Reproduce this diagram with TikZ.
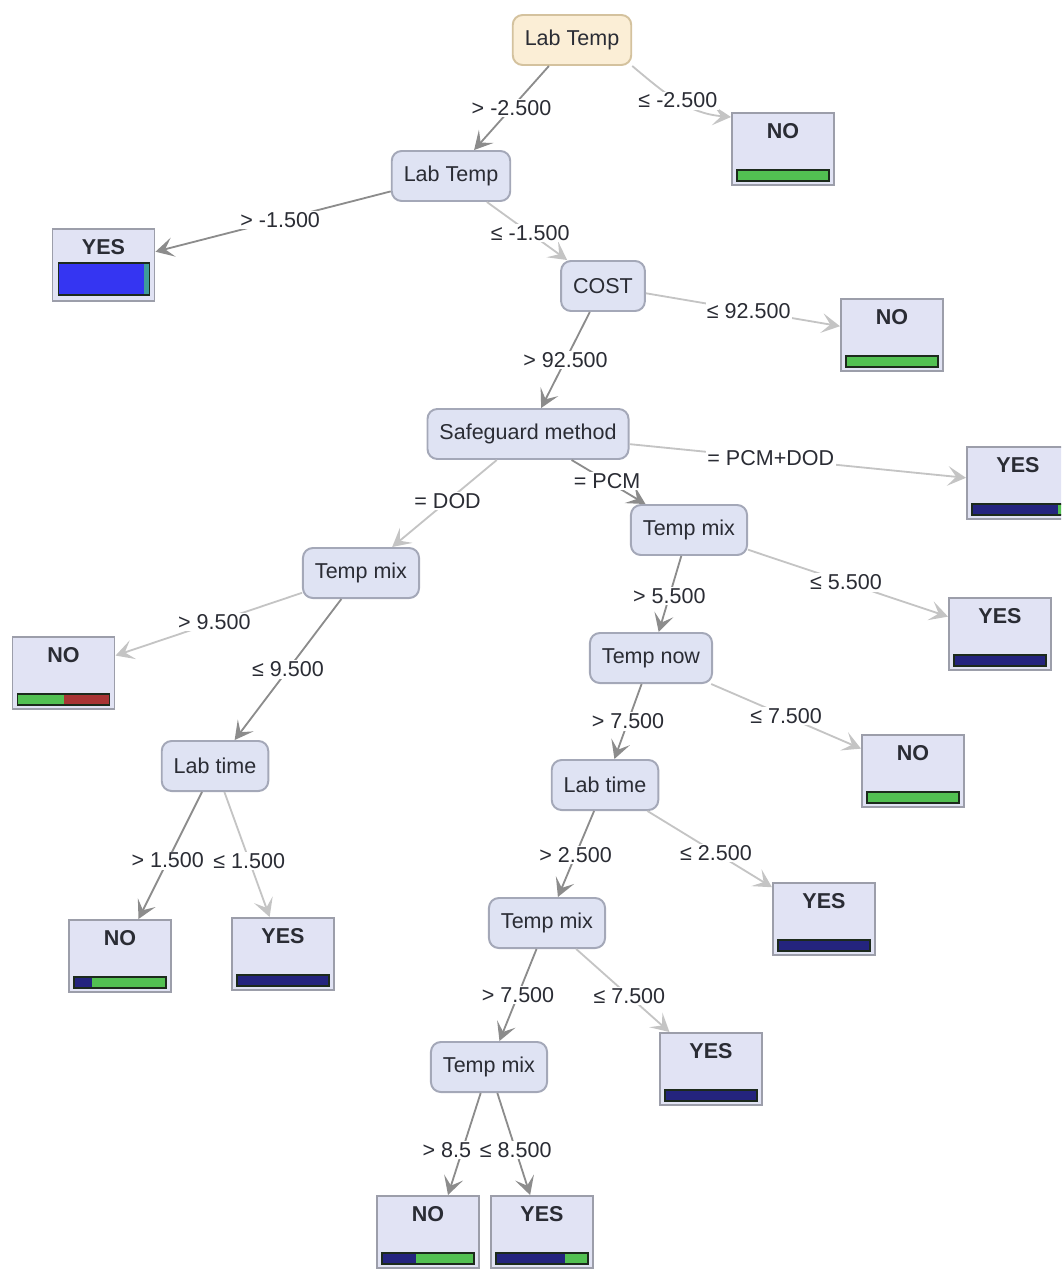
\documentclass[tikz,border=0pt]{standalone}
\usepackage{fontspec}
\setmainfont{Liberation Sans}
\usetikzlibrary{arrows.meta}

\definecolor{splitfill}{HTML}{DFE3F3}
\definecolor{splitdraw}{HTML}{A4A8B8}
\definecolor{rootfill}{HTML}{FBEED6}
\definecolor{rootdraw}{HTML}{D4C29E}
\definecolor{leaffill}{HTML}{E1E3F4}
\definecolor{leafdraw}{HTML}{9C9EAA}
\definecolor{inktext}{HTML}{2A2C34}
\definecolor{edgedarkc}{HTML}{8C8C8C}
\definecolor{edgelightc}{HTML}{C4C4C4}
\definecolor{bargreen}{HTML}{52C052}
\definecolor{barnavy}{HTML}{24247E}
\definecolor{barblue}{HTML}{3535F2}
\definecolor{barred}{HTML}{A83434}
\definecolor{barteal}{HTML}{3E9C9C}
\definecolor{barline}{HTML}{1C2A1C}

\tikzset{
  splitbox/.style={rectangle, rounded corners=7pt, fill=splitfill, draw=splitdraw,
    line width=1.4pt, minimum height=1.25cm, inner xsep=0.3cm, text=inktext,
    font=\fontsize{15.3}{18}\selectfont},
  rootbox/.style={splitbox, fill=rootfill, draw=rootdraw},
  leafbox/.style={rectangle, fill=leaffill, draw=leafdraw, line width=1.4pt,
    minimum width=2.55cm, minimum height=1.8cm, inner sep=0pt},
  leaftext/.style={text=inktext, font=\bfseries\fontsize{15.3}{18}\selectfont, inner sep=0pt},
  edgebase/.style={line width=1.3pt, -{Stealth[length=13pt,width=14pt,inset=6pt]}},
  edgestrong/.style={edgebase, draw=edgedarkc},
  edgefaint/.style={edgebase, draw=edgelightc},
  condlabel/.style={fill=white, inner sep=1pt, text=inktext,
    font=\fontsize{15.3}{18}\selectfont},
}

% leaf: name, position, class
\newcommand{\leafnode}[3]{%
  \node[leafbox] (#1) at #2 {};
  \node[leaftext] (#1-txt) at ([shift={(0,-18)}]#1.center) {#3};
}
% one coloured stretch of a leaf's class bar: node, from, to, colour
\newcommand{\leafbar}[4]{%
  \fill[#4] ([shift={({-46+92*#2},21)}]#1.center) rectangle ([shift={({-46+92*#3},32)}]#1.center);}
\newcommand{\leafbarframe}[1]{%
  \draw[barline, line width=1.1pt] ([shift={(-46,21)}]#1.center) rectangle ([shift={(46,32)}]#1.center);}

\begin{document}
\begin{tikzpicture}[x=0.025cm,y=-0.025cm]
\useasboundingbox (0,0) rectangle (1061,1270);
\clip (0,0) rectangle (1061,1270);

% split nodes
\node[rootbox]  (root) at (572,40)   {Lab Temp};
\node[splitbox] (lt2)  at (451,176)  {Lab Temp};
\node[splitbox] (cost) at (603,286)  {COST};
\node[splitbox] (safe) at (528,434)  {Safeguard method};
\node[splitbox] (tmR)  at (689,530)  {Temp mix};
\node[splitbox] (tmL)  at (361,573)  {Temp mix};
\node[splitbox] (tnow) at (651,658)  {Temp now};
\node[splitbox] (ltL)  at (215,766)  {Lab time};
\node[splitbox] (ltR)  at (605,785)  {Lab time};
\node[splitbox] (tm3)  at (547,923)  {Temp mix};
\node[splitbox] (tm4)  at (489,1067) {Temp mix};

% leaves
\leafnode{no1}{(783,149)}{NO}
\leafbar{no1}{0}{1}{bargreen}\leafbarframe{no1}

\leafnode{yes1}{(103.5,265)}{YES}
\fill[barblue] ([shift={(-45,-2)}]yes1.center) rectangle ([shift={(40,30)}]yes1.center);
\fill[barteal] ([shift={(40,-2)}]yes1.center) rectangle ([shift={(46,30)}]yes1.center);
\draw[barline, line width=1.1pt] ([shift={(-45,-2)}]yes1.center) rectangle ([shift={(46,30)}]yes1.center);

\leafnode{no2}{(892,335)}{NO}
\leafbar{no2}{0}{1}{bargreen}\leafbarframe{no2}

\leafnode{yes2}{(1018,483)}{YES}
\leafbar{yes2}{0}{0.93}{barnavy}\leafbar{yes2}{0.93}{1}{bargreen}\leafbarframe{yes2}

\leafnode{no3}{(63.5,673)}{NO}
\leafbar{no3}{0}{0.5}{bargreen}\leafbar{no3}{0.5}{1}{barred}\leafbarframe{no3}

\leafnode{yes3}{(1000,634)}{YES}
\leafbar{yes3}{0}{1}{barnavy}\leafbarframe{yes3}

\leafnode{no4}{(913,771)}{NO}
\leafbar{no4}{0}{1}{bargreen}\leafbarframe{no4}

\leafnode{no5}{(120,956)}{NO}
\leafbar{no5}{0}{0.2}{barnavy}\leafbar{no5}{0.2}{1}{bargreen}\leafbarframe{no5}

\leafnode{yes4}{(283,954)}{YES}
\leafbar{yes4}{0}{1}{barnavy}\leafbarframe{yes4}

\leafnode{yes5}{(824,919)}{YES}
\leafbar{yes5}{0}{1}{barnavy}\leafbarframe{yes5}

\leafnode{yes6}{(711,1069)}{YES}
\leafbar{yes6}{0}{1}{barnavy}\leafbarframe{yes6}

\leafnode{no6}{(428,1232)}{NO}
\leafbar{no6}{0}{0.37}{barnavy}\leafbar{no6}{0.37}{1}{bargreen}\leafbarframe{no6}

\leafnode{yes7}{(542,1232)}{YES}
\leafbar{yes7}{0}{0.75}{barnavy}\leafbar{yes7}{0.75}{1}{bargreen}\leafbarframe{yes7}

% branches
\draw[edgestrong] (root) -- node[condlabel,pos=0.5] (c1) {> -2.500} (lt2);
\draw[edgefaint] (root.south east) to[out=-40,in=175] node[condlabel,pos=0.5] (c2) {≤ -2.500} ([shift={(0,5)}]no1.north west);
\draw[edgestrong] (lt2) -- node[condlabel,pos=0.47] (c3) {> -1.500} (yes1);
\draw[edgefaint] (lt2) -- node[condlabel,pos=0.54] (c4) {≤ -1.500} (cost);
\draw[edgefaint] (cost) -- node[condlabel,pos=0.53] (c5) {≤ 92.500} (no2);
\draw[edgestrong] (cost) -- node[condlabel,pos=0.5] (c6) {> 92.500} (safe);
\draw[edgefaint] (safe) -- node[condlabel,pos=0.42] (c7) {= PCM+DOD} (yes2);
\draw[edgestrong] (safe) -- node[condlabel,pos=0.48] (c8) {= PCM} (tmR);
\draw[edgefaint] (safe) -- node[condlabel,pos=0.47] (c9) {= DOD} (tmL);
\draw[edgefaint] (tmL) -- node[condlabel,pos=0.47] (c10) {> 9.500} (no3);
\draw[edgestrong] (tmL) -- node[condlabel,pos=0.5] (c11) {≤ 9.500} (ltL);
\draw[edgestrong] (ltL) -- node[condlabel,pos=0.54] (c12) {> 1.500} (no5);
\draw[edgefaint] (ltL) -- node[condlabel,pos=0.55] (c13) {≤ 1.500} (yes4);
\draw[edgefaint] (tmR) -- node[condlabel,pos=0.49] (c14) {≤ 5.500} (yes3);
\draw[edgestrong] (tmR) -- node[condlabel,pos=0.53] (c15) {> 5.500} (tnow);
\draw[edgefaint] (tnow) -- node[condlabel,pos=0.5] (c16) {≤ 7.500} (no4);
\draw[edgestrong] (tnow) -- node[condlabel,pos=0.5] (c17) {> 7.500} (ltR);
\draw[edgefaint] (ltR) -- node[condlabel,pos=0.55] (c18) {≤ 2.500} (yes5);
\draw[edgestrong] (ltR) -- node[condlabel,pos=0.51] (c19) {> 2.500} (tm3);
\draw[edgefaint] (tm3) -- node[condlabel,pos=0.57] (c20) {≤ 7.500} (yes6);
\draw[edgestrong] (tm3) -- node[condlabel,pos=0.5] (c21) {> 7.500} (tm4);
\draw[edgestrong] (tm4) -- node[condlabel,pos=0.56,xshift=-11pt] (c22) {> 8.5} ([shift={(20,0)}]no6.north);
\draw[edgestrong] (tm4) -- node[condlabel,pos=0.56] (c23) {≤ 8.500} (yes7);

\end{tikzpicture}
\end{document}
